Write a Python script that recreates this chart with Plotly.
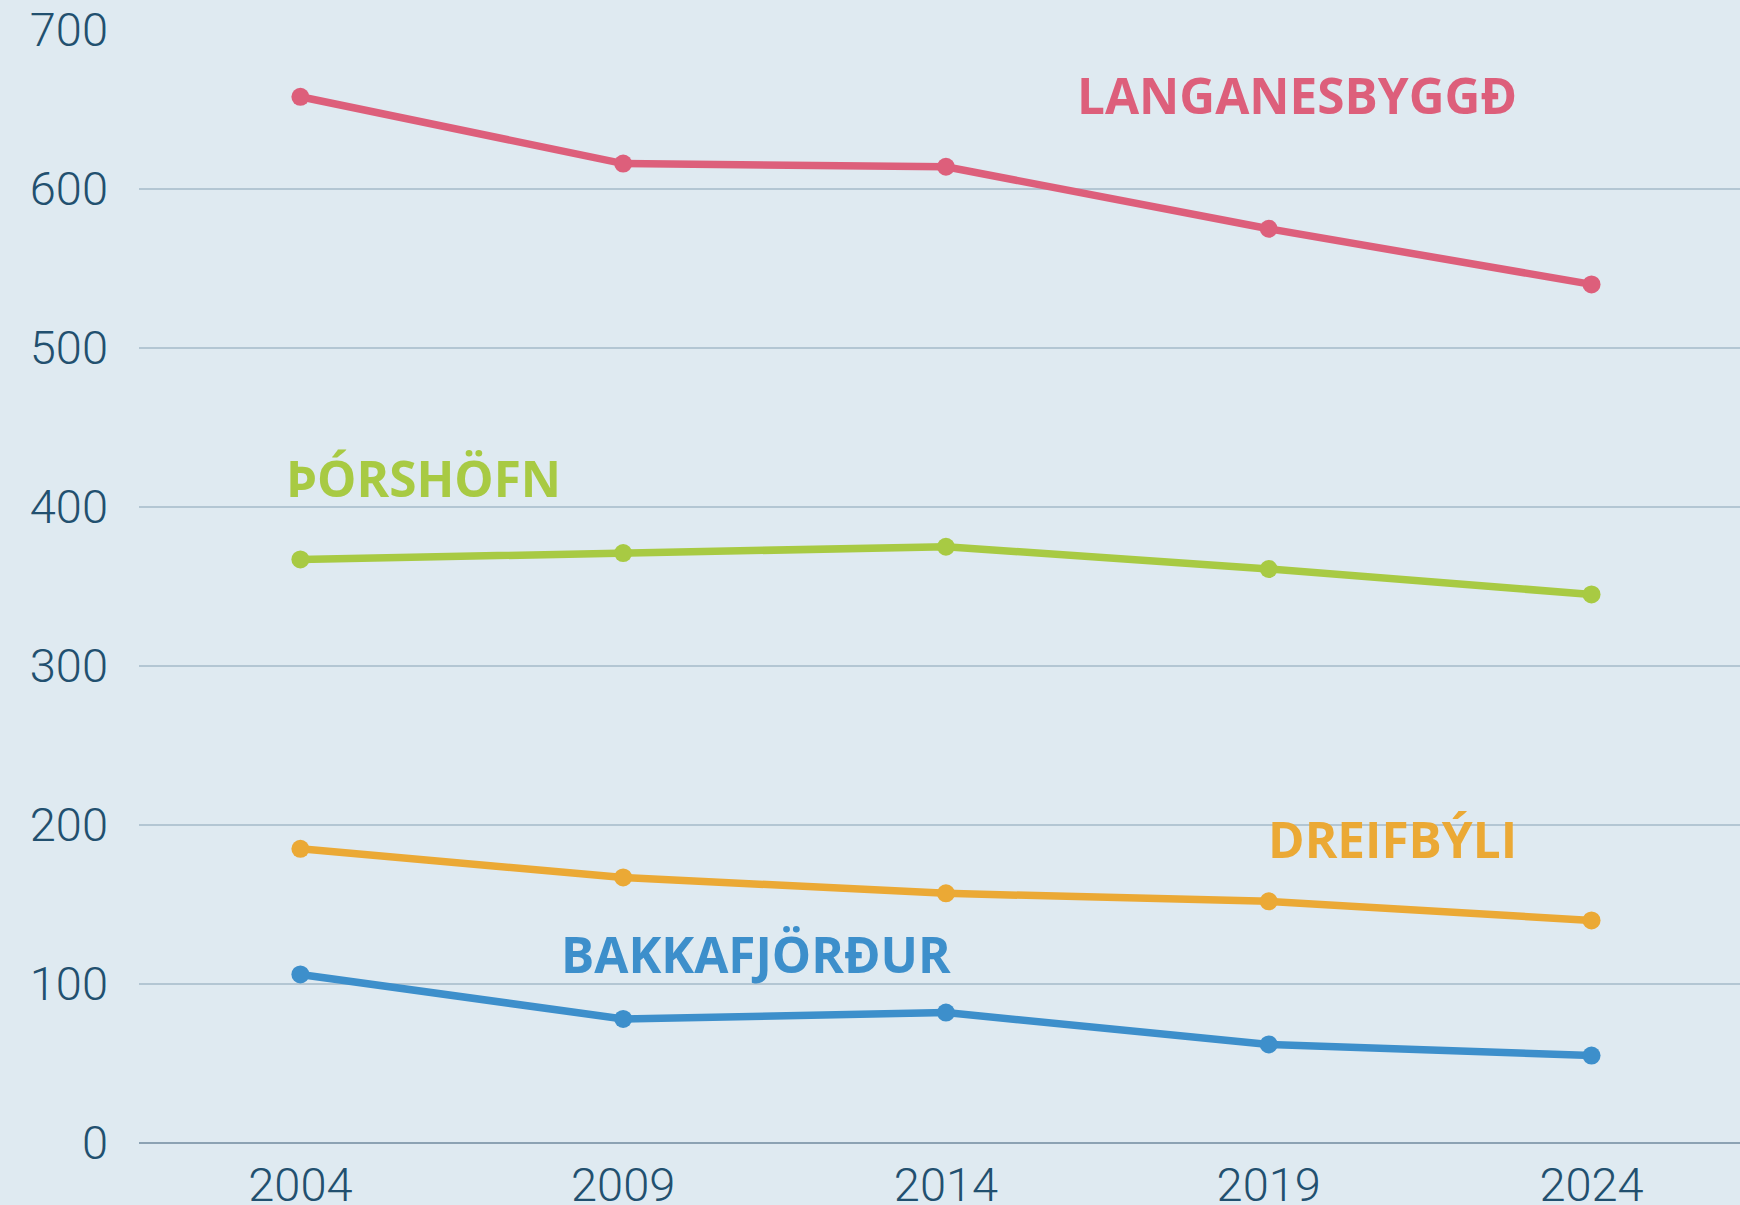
import plotly.graph_objects as go

years = [2004, 2009, 2014, 2019, 2024]
langanesbyggd = [658, 616, 614, 575, 540]
thorshofn = [367, 371, 375, 361, 345]
dreifbyli = [185, 167, 157, 152, 140]
bakkafjordur = [106, 78, 82, 62, 55]

series = [
    ("LANGANESBYGGÐ", langanesbyggd, "#DD5F7B"),
    ("ÞÓRSHÖFN", thorshofn, "#A8CA43"),
    ("DREIFBÝLI", dreifbyli, "#EBA935"),
    ("BAKKAFJÖRÐUR", bakkafjordur, "#3D8FCB"),
]

fig = go.Figure()
for name, vals, col in series:
    fig.add_trace(go.Scatter(
        x=years, y=vals, mode="lines+markers", name=name,
        line=dict(color=col, width=7.5),
        marker=dict(color=col, size=18),
        cliponaxis=False, showlegend=False,
    ))

labels = [
    ("LANGANESBYGGÐ", 2022.88, 659.0, "right", "#DD5F7B"),
    ("ÞÓRSHÖFN", 2003.75, 418.0, "left", "#A8CA43"),
    ("DREIFBÝLI", 2022.88, 191.0, "right", "#EBA935"),
    ("BAKKAFJÖRÐUR", 2008.01, 118.7, "left", "#3D8FCB"),
]
for txt, x, y, xa, col in labels:
    fig.add_annotation(x=x, y=y, text=txt, xanchor=xa, yanchor="middle",
                       showarrow=False,
                       font=dict(family="Open Sans", size=49.5, color=col, weight=700))

tickfont = dict(family="Roboto", size=47, color="#22506F", weight=300)

fig.update_layout(
    width=1740, height=1205,
    paper_bgcolor="#DFEAF1", plot_bgcolor="#DFEAF1",
    margin=dict(l=139, r=0, t=30, b=62, autoexpand=False),
    xaxis=dict(range=[2001.5, 2026.3], tickvals=years, ticktext=[str(y) for y in years],
               showgrid=False, zeroline=False, showline=False, ticks="",
               tickfont=tickfont, ticklabelstandoff=10, automargin=False),
    yaxis=dict(range=[0, 700], tickvals=[0, 100, 200, 300, 400, 500, 600, 700],
               showgrid=True, gridcolor="#B3C6D3", gridwidth=2,
               zeroline=True, zerolinecolor="#8CA2B3", zerolinewidth=2,
               showline=False, ticks="", tickfont=tickfont,
               ticklabelstandoff=30, automargin=False),
)

fig.write_html("out.html", config={"displayModeBar": False},
               post_script="document.body.style.margin='0';document.body.style.background='#DFEAF1';document.body.style.overflow='hidden';")
